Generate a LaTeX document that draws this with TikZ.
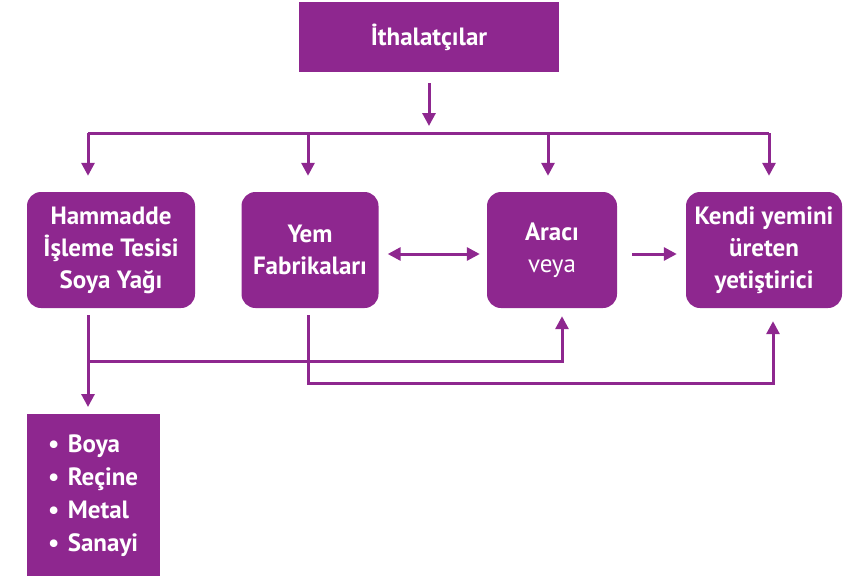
\documentclass[tikz,border=0pt]{standalone}
\usepackage{fontspec}
\setmainfont{PT Sans}
\usetikzlibrary{arrows.meta}
\definecolor{mor}{HTML}{8E278F}

\begin{document}
\begin{tikzpicture}[x=1pt, y=-1pt,
		kutu/.style={fill=mor, text=white, align=center, rounded corners=14pt, inner sep=0pt,
			minimum height=116pt, font=\bfseries\fontsize{25}{32}\selectfont},
		cizgi/.style={draw=mor, line width=3pt},
		ok/.style={cizgi, -{Triangle[length=13pt, width=13pt]}}]
	\useasboundingbox (0,0) rectangle (857,576);

	\draw (429, 37) 	node[kutu, rounded corners=0pt, minimum width=260pt, minimum height=70pt] 	(ithal) 	{İthalatçılar};
	\draw (111, 250) 	node[kutu, minimum width=168pt] 	(hamm) 		{Hammadde\\İşleme Tesisi\\Soya Yağı};
	\draw (310, 250) 	node[kutu, minimum width=137pt] 	(yem) 		{Yem\\Fabrikaları};
	\draw (552, 250) 	node[kutu, minimum width=130pt] 	(araci) 	{Aracı\\{\mdseries veya}};
	\draw (764, 250) 	node[kutu, minimum width=156pt] 	(kendi) 	{Kendi yemini\\üreten\\yetiştirici};
	\draw (27, 414) 	node[kutu, rounded corners=0pt, anchor=north west, minimum width=133pt, minimum height=162pt,
		align=left, text width=91pt, font=\bfseries\fontsize{25}{33}\selectfont] 	(liste) 	{• Boya\\• Reçine\\• Metal\\• Sanayi};

	\coordinate (bus) 	at (429, 133);
	\coordinate (b1) 	at (88, 133);
	\coordinate (b2) 	at (308, 133);
	\coordinate (b3) 	at (548, 133);
	\coordinate (b4) 	at (769, 133);
	\coordinate (c1) 	at (88, 361);
	\coordinate (c2) 	at (562, 361);
	\coordinate (d1) 	at (773, 383);

	\draw[ok, shorten <=11pt, shorten >=7pt] (ithal) -- (bus);
	\draw[cizgi] (b1) -- (b4);
	\draw[ok, shorten >=16pt] (b1) -- (b1 |- hamm.north);
	\draw[ok, shorten >=16pt] (b2) -- (b2 |- yem.north);
	\draw[ok, shorten >=16pt] (b3) -- (b3 |- araci.north);
	\draw[ok, shorten >=16pt] (b4) -- (b4 |- kendi.north);

	\draw[cizgi, {Triangle[length=13pt, width=13pt]}-{Triangle[length=13pt, width=13pt]}, shorten <=9pt, shorten >=7pt] ([yshift=-4pt]yem.east) -- ([yshift=-4pt]araci.west);
	\draw[ok, shorten <=15pt, shorten >=9pt] ([yshift=-4pt]araci.east) -- ([yshift=-4pt]kendi.west);

	\draw[ok, shorten <=7pt, shorten >=7pt] (hamm.south -| b1) -- (liste.north -| b1);
	\draw[ok, shorten >=8pt] (c1) -- (c2) -- (c2 |- araci.south);
	\draw[ok, shorten <=7pt, shorten >=13pt] (yem.south -| b2) |- (d1) -- (d1 |- kendi.south);
\end{tikzpicture}
\end{document}
